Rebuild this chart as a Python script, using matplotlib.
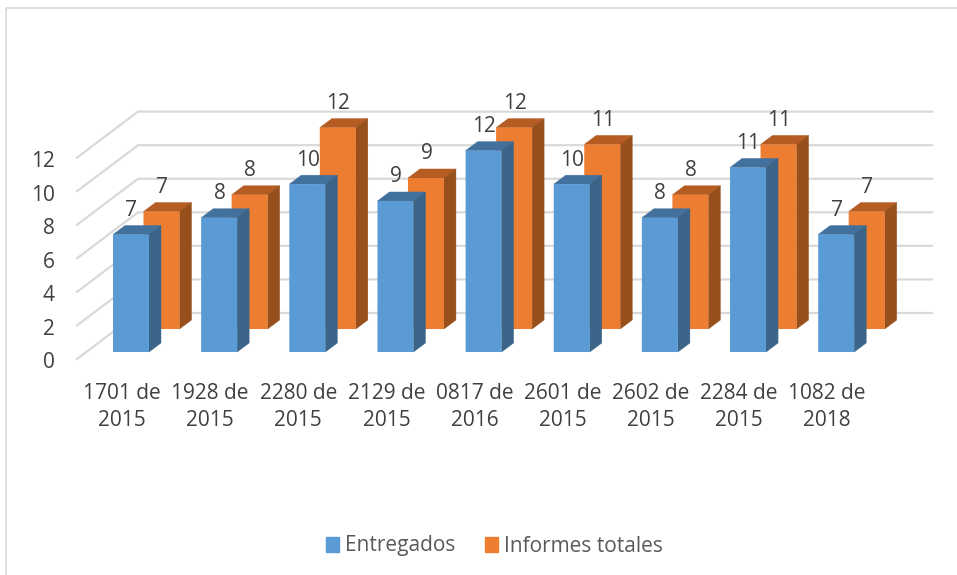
import matplotlib
matplotlib.use("Agg")
from matplotlib import pyplot as plt
from matplotlib.patches import Patch, Polygon
from matplotlib.transforms import ScaledTranslation
import numpy as np

categories = ["1701 de\n2015", "1928 de\n2015", "2280 de\n2015", "2129 de\n2015", "0817 de\n2016",
              "2601 de\n2015", "2602 de\n2015", "2284 de\n2015", "1082 de\n2018"]
entregados = [7, 8, 10, 9, 12, 10, 8, 11, 7]
informes = [7, 8, 12, 9, 12, 11, 8, 11, 7]
y_ticks = [0, 2, 4, 6, 8, 10, 12]

plt.rcParams['font.family'] = ['Open Sans', 'DejaVu Sans']

W, H = 957, 575
X_PX = 88.15   # pixels per category
Y_PX = 16.78   # pixels per value unit

fig = plt.figure(figsize=(W / 100, H / 100), dpi=100)
left, right, base = 77, 932, 359
ax = fig.add_axes([left / W, 1 - base / H, (right - left) / W, 12 * Y_PX / H])
ax.set_xlim(-54 / X_PX, (right - 131) / X_PX)
ax.set_ylim(0, 12)
for s in ax.spines.values():
    s.set_visible(False)

def dx(px):
    return px / X_PX

def dy(px):
    return px / Y_PX

# walls and gridlines
for v in y_ticks:
    ax.plot([ax.get_xlim()[0], ax.get_xlim()[0] + dx(61), ax.get_xlim()[1]],
            [v, v + dy(46), v + dy(46)], color="#D9D9D9", lw=1.6, clip_on=False, zorder=1,
            solid_joinstyle="miter")

def bar3d(x, val, lift, front, top, side, z):
    w = dx(36)
    bottom = dy(lift)
    ax.bar(x, val, w, bottom=bottom, color=front, zorder=z + 0.1, clip_on=False, snap=False, lw=0)
    xl, xr = x - w / 2, x + w / 2
    yb, yt = bottom, bottom + val
    ox, oy = dx(12), dy(9)
    ax.add_patch(Polygon([(xl, yt), (xr, yt), (xr + ox, yt + oy), (xl + ox, yt + oy)],
                         fc=top, ec=top, lw=0.3, zorder=z, clip_on=False))
    ax.add_patch(Polygon([(xr, yb), (xr + ox, yb + oy), (xr + ox, yt + oy), (xr, yt)],
                         fc=side, ec=side, lw=0.3, zorder=z, clip_on=False))
    ax.text(x + dx(0.5), yt + dy(24), str(val), ha="center", va="center", fontsize=15,
            color="#404040", zorder=10, clip_on=False)

x = np.arange(len(categories))
for i in x:
    bar3d(i + dx(30.5), informes[i], 30, "#ED7D31", "#B45C21", "#97501C", 3)
    bar3d(i, entregados[i], 7, "#5B9BD5", "#41719C", "#3A6488", 4)

ax.set_xticks(x - dx(9))
ax.set_xticklabels(categories, fontsize=15, color="#404040", linespacing=1.42)
ax.set_yticks(y_ticks)
ax.set_yticklabels([str(v) for v in y_ticks], fontsize=15, color="#404040")
ax.tick_params(axis="x", length=0, pad=17)
ax.tick_params(axis="y", length=0, pad=16)
shift = ScaledTranslation(0, -1.5 / 100, fig.dpi_scale_trans)
for lab in ax.get_yticklabels():
    lab.set_transform(lab.get_transform() + shift)

handles = [Patch(color="#5B9BD5", label="Entregados"), Patch(color="#ED7D31", label="Informes totales")]
fig.legend(handles=handles, loc="center", bbox_to_anchor=(494.5 / W, 1 - 546 / H), ncol=2, frameon=False,
           fontsize=15, labelcolor="#595959", handlelength=0.65, handleheight=0.7,
           handletextpad=0.29, columnspacing=1.39)

# chart border
fig.add_artist(plt.Line2D([5.5 / W, 5.5 / W, 1], [0, 1 - 8 / H, 1 - 8 / H], color="#D9D9D9", lw=1.2))

fig.savefig("out.png", dpi=100)
